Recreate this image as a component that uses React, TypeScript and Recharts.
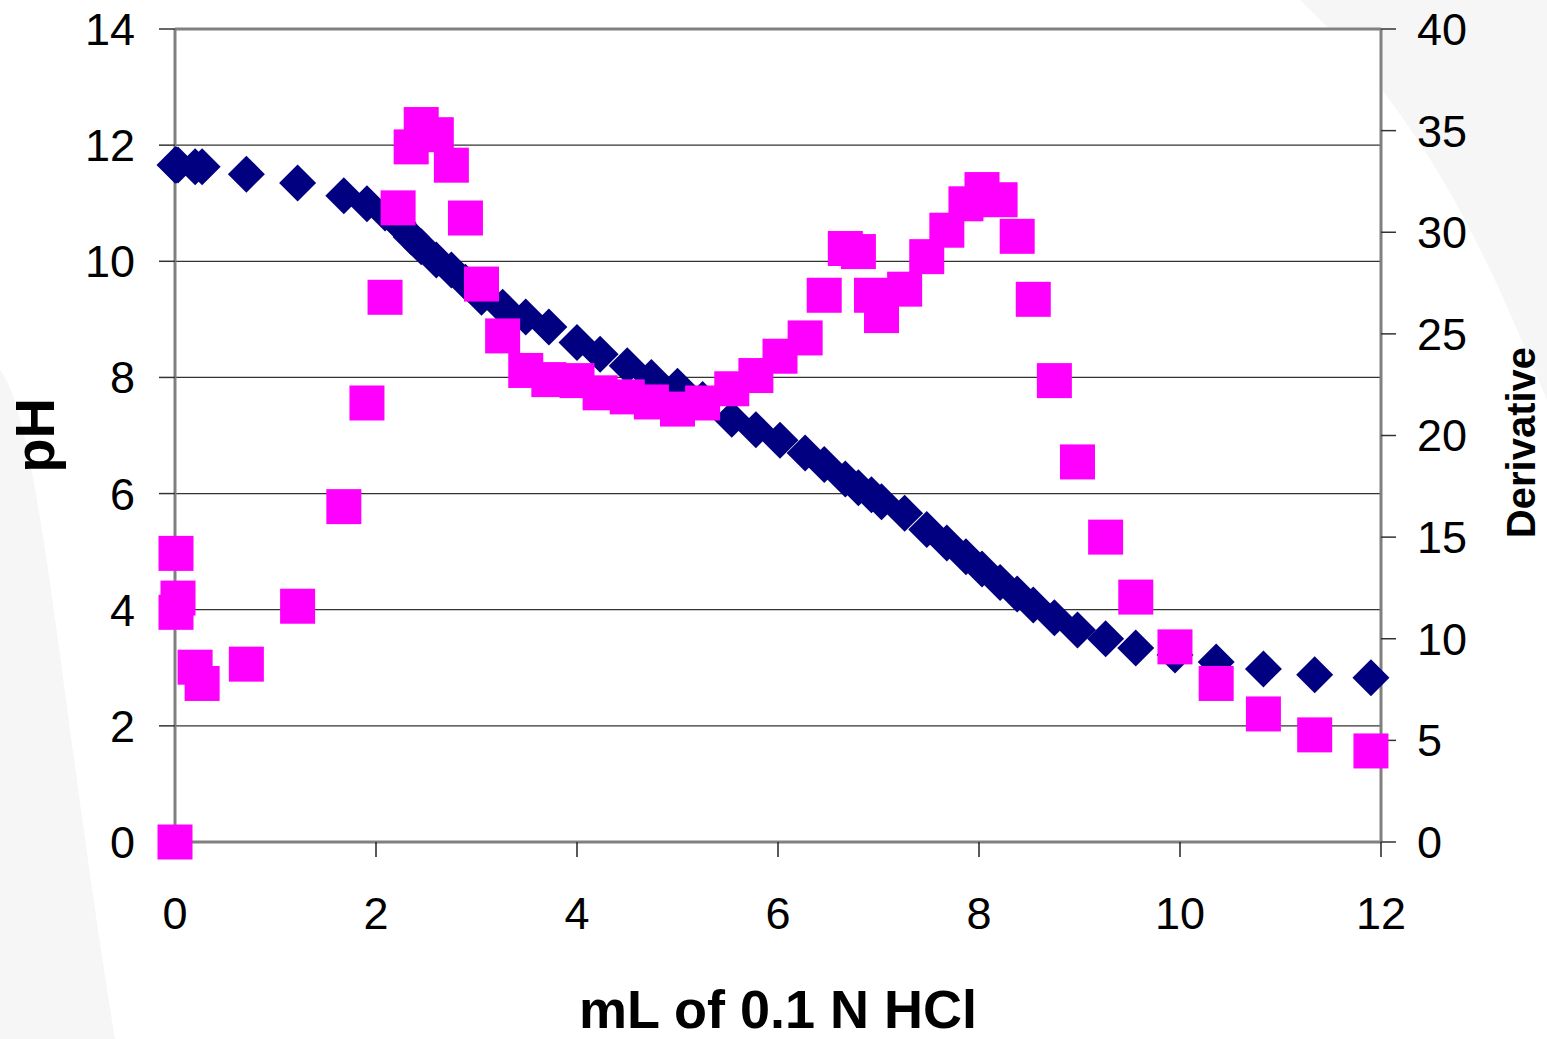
import {
  ScatterChart,
  Scatter,
  XAxis,
  YAxis,
  CartesianGrid,
  ReferenceLine,
} from 'recharts';

// mL of 0.1 N HCl added
const volume = [
  0, 0.01, 0.03, 0.01, 0.2, 0.27, 0.71, 1.22, 1.68, 1.91, 2.09, 2.22, 2.35,
  2.45, 2.6, 2.75, 2.89, 3.05, 3.26, 3.49, 3.72, 4.0, 4.23, 4.5, 4.74, 5.0,
  5.25, 5.54, 5.78, 6.02, 6.27, 6.46, 6.67, 6.8, 6.93, 7.03, 7.26, 7.48, 7.68,
  7.87, 8.03, 8.21, 8.38, 8.54, 8.75, 8.98, 9.26, 9.56, 9.95, 10.36, 10.83,
  11.34, 11.9,
];

const ph = [
  11.66, 11.66, 11.66, 11.66, 11.63, 11.63, 11.5, 11.35, 11.13, 10.99, 10.83,
  10.66, 10.42, 10.25, 10.02, 9.85, 9.64, 9.38, 9.21, 9.04, 8.87, 8.6, 8.4,
  8.2, 8.0, 7.85, 7.62, 7.28, 7.1, 6.92, 6.7, 6.5, 6.25, 6.1, 5.98, 5.86, 5.66,
  5.38, 5.15, 4.91, 4.7, 4.47, 4.27, 4.08, 3.86, 3.65, 3.5, 3.34, 3.22, 3.1,
  2.98, 2.88, 2.83,
];

const derivative = [
  0, 14.2, 12.0, 11.3, 8.6, 7.8, 8.75, 11.6, 16.5, 21.6, 26.8, 31.2, 34.2,
  35.3, 34.8, 33.3, 30.7, 27.45, 24.9, 23.2, 22.75, 22.7, 22.1, 21.9, 21.65,
  21.3, 21.6, 22.3, 22.95, 23.9, 24.8, 26.9, 29.2, 29.05, 26.9, 25.9, 27.2,
  28.8, 30.1, 31.4, 32.1, 31.6, 29.8, 26.7, 22.7, 18.7, 15.0, 12.05, 9.6, 7.8,
  6.3, 5.27, 4.48,
];

const xTicks = [0, 2, 4, 6, 8, 10, 12];
const phTicks = [0, 2, 4, 6, 8, 10, 12, 14];
const derivTicks = [0, 5, 10, 15, 20, 25, 30, 35, 40];

const FONT = '"Liberation Sans", Arial, Helvetica, sans-serif';
const NAVY = '#000080';
const MAGENTA = '#FF00FF';

const phData = volume.map((v, i) => ({ x: v, y: ph[i] }));
const derivData = volume.map((v, i) => ({ x: v, y: derivative[i] }));

const Diamond = (props: any) => {
  const { cx, cy } = props;
  const r = 18.5;
  return (
    <polygon
      points={`${cx},${cy - r} ${cx + r},${cy} ${cx},${cy + r} ${cx - r},${cy}`}
      fill={NAVY}
    />
  );
};

const Square = (props: any) => {
  const { cx, cy } = props;
  const s = 35;
  return <rect x={cx - s / 2} y={cy - s / 2} width={s} height={s} fill={MAGENTA} />;
};

const PhTitle = (props: any) => {
  const { x, y, height } = props.viewBox;
  const tx = x + 54;
  const ty = y + height / 2;
  return (
    <text
      x={tx}
      y={ty}
      transform={`rotate(-90, ${tx}, ${ty})`}
      textAnchor="middle"
      fontFamily={FONT}
      fontWeight="bold"
      fontSize={56}
      fill="#000"
    >
      pH
    </text>
  );
};

const DerivTitle = (props: any) => {
  const { x, y, height } = props.viewBox;
  const tx = x + 154;
  const ty = y + height / 2 + 7;
  return (
    <text
      x={tx}
      y={ty}
      transform={`rotate(-90, ${tx}, ${ty})`}
      textAnchor="middle"
      fontFamily={FONT}
      fontWeight="bold"
      fontSize={40}
      fill="#000"
    >
      Derivative
    </text>
  );
};

const tickStyle = { fill: '#000', fontSize: 45, fontFamily: FONT };

export default function App() {
  return (
    <div style={{ position: 'absolute', left: 0, top: 0, width: 1547, height: 1039, background: '#fff' }}>
      <svg
        width={1547}
        height={1039}
        style={{ position: 'absolute', left: 0, top: 0 }}
      >
        <path d="M0,370 C40,420 60,700 115,1039 L0,1039 Z" fill="#f6f6f6" />
        <path d="M1300,0 L1547,0 L1547,400 C1500,290 1440,130 1300,0 Z" fill="#f6f6f6" />
      </svg>
      <div style={{ position: 'absolute', left: 0, top: 0 }}>
        <ScatterChart
          width={1547}
          height={1039}
          margin={{ top: 29, right: 46, bottom: 0, left: 0 }}
        >
          <CartesianGrid
            vertical={false}
            stroke="#333"
            strokeWidth={1.3}
            fill="#ffffff"
            fillOpacity={1}
          />
          <XAxis
            type="number"
            dataKey="x"
            domain={[0, 12]}
            ticks={xTicks}
            interval={0}
            height={197}
            tick={tickStyle}
            tickSize={15}
            tickMargin={40}
            axisLine={{ stroke: '#808080', strokeWidth: 3 }}
            tickLine={{ stroke: '#222', strokeWidth: 1.5 }}
            label={{
              value: 'mL of 0.1 N HCl',
              position: 'insideBottom',
              offset: 11,
              style: { fontFamily: FONT, fontWeight: 'bold', fontSize: 54, fill: '#000' },
            }}
          />
          <YAxis
            type="number"
            dataKey="y"
            domain={[0, 14]}
            ticks={phTicks}
            interval={0}
            width={175}
            tick={tickStyle}
            tickSize={16}
            tickMargin={24}
            axisLine={{ stroke: '#808080', strokeWidth: 3 }}
            tickLine={{ stroke: '#333', strokeWidth: 1.5 }}
            label={<PhTitle />}
          />
          <YAxis
            yAxisId="right"
            orientation="right"
            type="number"
            dataKey="y"
            domain={[0, 40]}
            ticks={derivTicks}
            interval={0}
            width={120}
            tick={tickStyle}
            tickSize={15}
            tickMargin={21}
            axisLine={{ stroke: '#808080', strokeWidth: 3 }}
            tickLine={{ stroke: '#333', strokeWidth: 1.5 }}
            label={<DerivTitle />}
          />
          <ReferenceLine y={14} stroke="#808080" strokeWidth={3} />
          <Scatter data={phData} shape={<Diamond />} isAnimationActive={false} />
          <Scatter
            data={derivData}
            yAxisId="right"
            shape={<Square />}
            isAnimationActive={false}
          />
        </ScatterChart>
      </div>
    </div>
  );
}
